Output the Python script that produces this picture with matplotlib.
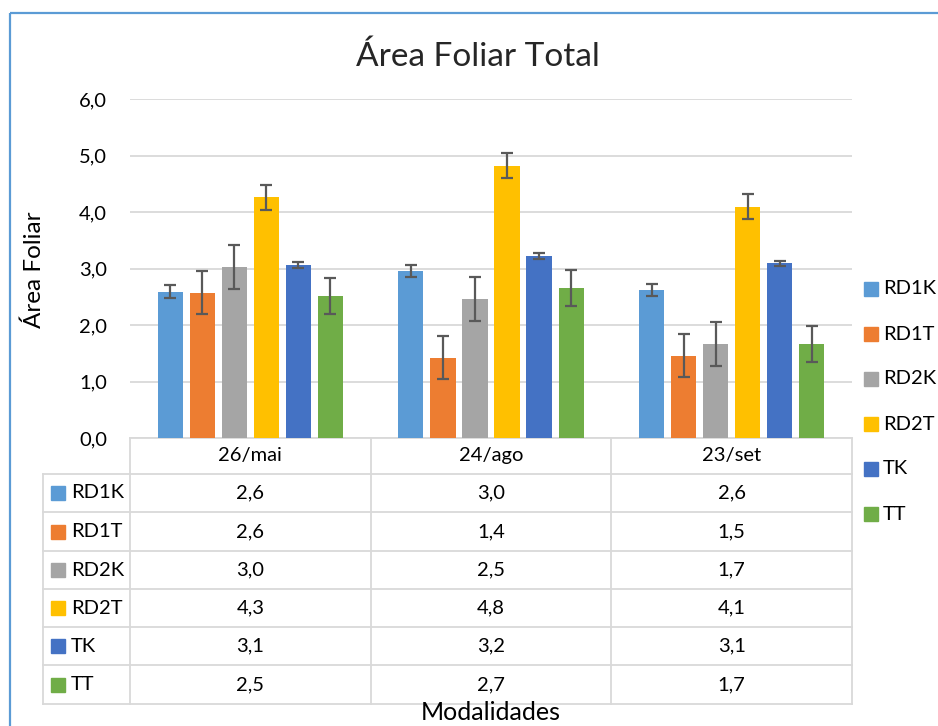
import numpy as np
import matplotlib
matplotlib.use("Agg")
import matplotlib.pyplot as plt
from matplotlib.patches import Rectangle

plt.rcParams['font.family'] = ['Lato', 'DejaVu Sans']

# data
categories = ['26/mai', '24/ago', '23/set']
series = ['RD1K', 'RD1T', 'RD2K', 'RD2T', 'TK', 'TT']
colors = ['#5B9BD5', '#ED7D31', '#A5A5A5', '#FFC000', '#4472C4', '#70AD47']

rd1k = [2.59, 2.96, 2.62]
rd1t = [2.57, 1.42, 1.46]
rd2k = [3.02, 2.46, 1.67]
rd2t = [4.26, 4.82, 4.09]
tk = [3.06, 3.22, 3.09]
tt = [2.52, 2.66, 1.66]
means = [rd1k, rd1t, rd2k, rd2t, tk, tt]

# standard errors (same for each date in a series)
errors = [0.11, 0.38, 0.39, 0.22, 0.05, 0.32]

yticks = [0, 1, 2, 3, 4, 5, 6]

W, H = 938, 726
fig = plt.figure(figsize=(W / 100, H / 100), dpi=100)

# overlay in pixel coordinates for the frame, table and legend
ov = fig.add_axes([0, 0, 1, 1])
ov.set_xlim(0, W)
ov.set_ylim(H, 0)
ov.axis('off')

# plot area: x 130..852, y 99..438 px
left, right, top, bottom = 130, 852, 99, 438
ax = fig.add_axes([left / W, (H - bottom) / H, (right - left) / W, (bottom - top) / H])

x = np.arange(len(categories))
pitch = 0.133
width = 0.104
for i, (name, vals) in enumerate(zip(series, means)):
    pos = x + (i - 2.5) * pitch
    ax.bar(pos, vals, width, color=colors[i], zorder=3)
    ax.errorbar(pos, vals, yerr=errors[i], fmt='none', ecolor='#595959',
                elinewidth=1.6, capsize=4.3, capthick=1.6, zorder=4)

ax.set_xlim(-0.5, len(categories) - 0.5)
ax.set_ylim(0, 6)
ax.set_yticks(yticks)
ax.set_yticklabels([f"{v:.1f}".replace('.', ',') for v in yticks], fontsize=14.5)
ax.tick_params(axis='y', length=0, pad=16.5)
ax.set_xticks([])
ax.grid(axis='y', color='#D9D9D9', linewidth=1.3, zorder=0)
for s in ax.spines.values():
    s.set_visible(False)
ax.patch.set_alpha(0)

# title and axis labels
ov.text(478, 57, 'Área Foliar Total', fontsize=24, ha='center', va='center', color='#262626')
ov.text(34, 270, 'Área Foliar', fontsize=17.5, rotation=90, ha='center', va='center')
ov.text(491, 713, 'Modalidades', fontsize=18, ha='center', va='center')

# outer frame
ov.add_patch(Rectangle((10, 13), W, H, fill=False, edgecolor='#5B9BD5', linewidth=1.6))

# data table
grid_c = '#D9D9D9'
lw = 1.3
col_x = [left + k * (right - left) / 3 for k in range(4)]
row_y = [438, 474, 512, 551, 589, 627, 665, 704]
ov.plot([left, right], [row_y[0], row_y[0]], color=grid_c, lw=lw)
for yy in row_y[1:]:
    ov.plot([43, right], [yy, yy], color=grid_c, lw=lw)
ov.plot([43, 43], [row_y[1], row_y[-1]], color=grid_c, lw=lw)
for xx in col_x:
    ov.plot([xx, xx], [row_y[0], row_y[-1]], color=grid_c, lw=lw)

for j, cat in enumerate(categories):
    cx = (col_x[j] + col_x[j + 1]) / 2
    ov.text(cx, (row_y[0] + row_y[1]) / 2, cat, fontsize=14.5, ha='center', va='center')

for i, (name, vals) in enumerate(zip(series, means)):
    cy = (row_y[i + 1] + row_y[i + 2]) / 2
    ov.add_patch(Rectangle((51, cy - 7), 14, 14, color=colors[i]))
    ov.text(71, cy, name, fontsize=14.5, ha='left', va='center')
    for j, v in enumerate(vals):
        cx = (col_x[j] + col_x[j + 1]) / 2
        ov.text(cx, cy, f"{v:.1f}".replace('.', ','), fontsize=14.5, ha='center', va='center')

# legend on the right
leg_y0, leg_dy = 289, 45
for i, name in enumerate(series):
    ly = leg_y0 + i * leg_dy
    ov.add_patch(Rectangle((864, ly - 7), 14, 14, color=colors[i]))
    ov.text(883, ly, name, fontsize=14.5, ha='left', va='center')

fig.savefig('out.png', dpi=100)
